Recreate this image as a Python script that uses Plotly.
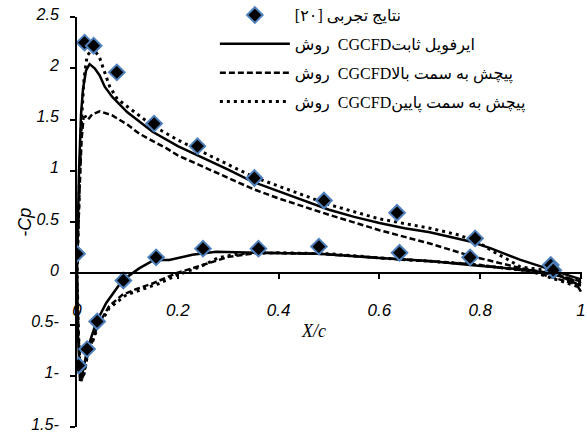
import plotly.graph_objects as go

# ---------------- data ----------------
exp_x = [0.0, 0.015, 0.033, 0.079, 0.153, 0.239, 0.352, 0.49, 0.635, 0.79, 0.94,
         0.003, 0.02, 0.04, 0.092, 0.157, 0.25, 0.36, 0.48, 0.64, 0.78, 0.945]
exp_y = [0.19, 2.25, 2.22, 1.96, 1.46, 1.24, 0.93, 0.71, 0.59, 0.34, 0.08,
         -0.9, -0.74, -0.47, -0.07, 0.155, 0.24, 0.24, 0.26, 0.2, 0.155, 0.03]

fixed_x = [1.0, 0.94, 0.88, 0.82, 0.78, 0.7, 0.65, 0.6, 0.55, 0.5, 0.45, 0.4, 0.35, 0.3, 0.24, 0.2,
           0.15, 0.1, 0.07, 0.055, 0.045, 0.035, 0.025, 0.018, 0.012, 0.008, 0.004, 0.001, 0.0,
           0.002, 0.006, 0.012, 0.02, 0.038, 0.058, 0.09, 0.124, 0.153, 0.183, 0.229, 0.276,
           0.36, 0.48, 0.6, 0.7, 0.78, 0.9, 0.96, 0.99, 1.0]
fixed_y = [-0.06, 0.035, 0.13, 0.245, 0.31, 0.40, 0.44, 0.49, 0.55, 0.62, 0.71, 0.80, 0.89, 1.01, 1.15, 1.24,
           1.38, 1.57, 1.72, 1.82, 1.93, 2.0, 2.04, 1.98, 1.80, 1.55, 1.0, 0.3, 0.0,
           -0.6, -1.05, -0.95, -0.75, -0.48, -0.29, -0.07, 0.05, 0.13, 0.13, 0.18, 0.21,
           0.20, 0.19, 0.15, 0.12, 0.08, 0.03, -0.03, -0.1, -0.18]

up_x = [1.0, 0.94, 0.88, 0.78, 0.7, 0.6, 0.5, 0.4, 0.35, 0.3, 0.24, 0.2, 0.177, 0.124, 0.1, 0.07,
        0.045, 0.03, 0.022, 0.017, 0.013, 0.009, 0.005, 0.002, 0.0,
        0.003, 0.008, 0.014, 0.02, 0.04, 0.064, 0.09, 0.12, 0.15, 0.197, 0.262, 0.3, 0.36,
        0.48, 0.6, 0.78, 0.9, 1.0]
up_y = [-0.08, 0.0, 0.05, 0.17, 0.29, 0.42, 0.57, 0.73, 0.82, 0.93, 1.06, 1.15, 1.22, 1.36, 1.45, 1.54,
        1.58, 1.55, 1.50, 1.53, 1.52, 1.3, 0.8, 0.3, 0.0,
        -0.6, -1.05, -0.98, -0.82, -0.52, -0.32, -0.21, -0.15, -0.1, 0.0, 0.1, 0.16, 0.2,
        0.19, 0.15, 0.09, 0.02, -0.12]

down_x = [1.0, 0.93, 0.88, 0.86, 0.83, 0.8, 0.76, 0.7, 0.6, 0.5, 0.4, 0.35, 0.3, 0.24, 0.2, 0.15,
          0.1, 0.08, 0.065, 0.055, 0.045, 0.032, 0.02, 0.014, 0.009, 0.005, 0.002, 0.0,
          0.003, 0.008, 0.014, 0.02, 0.04, 0.064, 0.098, 0.163, 0.197, 0.243, 0.28, 0.32,
          0.4, 0.5, 0.6, 0.78, 0.9, 1.0]
down_y = [-0.1, 0.03, 0.06, 0.12, 0.2, 0.29, 0.37, 0.44, 0.53, 0.67, 0.85, 0.94, 1.06, 1.20, 1.30, 1.44,
          1.62, 1.70, 1.82, 1.95, 2.1, 2.2, 2.12, 1.9, 1.5, 0.9, 0.3, 0.0,
          -0.6, -1.05, -0.98, -0.82, -0.54, -0.34, -0.21, -0.1, -0.02, 0.06, 0.15, 0.19,
          0.2, 0.19, 0.15, 0.09, 0.02, -0.14]

x_ticks = [0, 0.2, 0.4, 0.6, 0.8, 1]
x_ticktext = ["0", "0.2", "0.4", "0.6", "0.8", "1"]
y_ticks = [2.5, 2, 1.5, 1, 0.5, 0, -0.5, -1, -1.5]
y_ticktext = ["2.5", "2", "1.5", "1", "0.5", "0", "0.5-", "1-", "1.5-"]

RLE, PDF = "\u202b", "\u202c"
name_exp = RLE + "نتایج تجربی [۲۰]" + PDF
name_fixed = "روش  CGCFDایرفویل ثابت"
name_up = "روش  CGCFDپیچش به سمت بالا"
name_down = "روش  CGCFDپیچش به سمت پایین"

# ---------------- figure ----------------
fig = go.Figure()
fig.add_trace(go.Scatter(x=fixed_x, y=fixed_y, mode="lines", name=name_fixed,
                         line=dict(color="black", width=2.5), legendrank=2, legendgroup="b"))
fig.add_trace(go.Scatter(x=up_x, y=up_y, mode="lines", name=name_up,
                         line=dict(color="black", width=2.5, dash="6px,3px"), legendrank=3, legendgroup="c"))
fig.add_trace(go.Scatter(x=down_x, y=down_y, mode="lines", name=name_down,
                         line=dict(color="black", width=3, dash="3px,4px"), legendrank=4, legendgroup="d"))
fig.add_trace(go.Scatter(x=exp_x, y=exp_y, mode="markers", name=name_exp,
                         marker=dict(symbol="diamond", size=12, color="black",
                                     line=dict(color="#4F81BD", width=2)),
                         legendrank=1, legendgroup="a"))

fig.update_layout(
    width=587, height=434,
    margin=dict(l=77, r=5, t=17, b=7, autoexpand=False),
    paper_bgcolor="white", plot_bgcolor="white",
    font=dict(family="Liberation Sans, Arial", color="black"),
    showlegend=True,
    legend=dict(x=0.273, y=1.046, xanchor="left", yanchor="top",
                bgcolor="rgba(0,0,0,0)", itemwidth=70, tracegroupgap=5,
                font=dict(family="Liberation Serif, DejaVu Sans", size=16, color="black")),
    xaxis=dict(range=[0, 1.002], tickvals=x_ticks, ticktext=x_ticktext, automargin=False,
               showgrid=False, zeroline=False, showline=True, linecolor="black", linewidth=2,
               ticks="outside", ticklen=5, tickwidth=1.5, tickcolor="black",
               anchor="free", position=0.375, ticklabelstandoff=16, ticklabeloverflow="allow",
               tickfont=dict(size=17, style="italic", family="Liberation Sans, Arial")),
    yaxis=dict(range=[-1.5, 2.5], tickvals=y_ticks, ticktext=y_ticktext, automargin=False,
               showgrid=False, zeroline=False, showline=True, linecolor="black", linewidth=2,
               ticks="outside", ticklen=5, tickwidth=1.5, tickcolor="black",
               ticklabelstandoff=8, ticklabeloverflow="allow", ticklabelshift=-3,
               tickfont=dict(size=16, style="italic", family="Liberation Sans, Arial")),
    annotations=[
        dict(text="-Cp", textangle=-90, xref="paper", yref="y", x=-0.127, y=0.5,
             showarrow=False, font=dict(size=18, style="italic", family="Liberation Sans, Arial")),
        dict(text="X/c", xref="x", yref="y", x=0.47, y=-0.56, showarrow=False,
             font=dict(size=18, style="italic", family="Liberation Serif, DejaVu Serif")),
    ],
)

# remove the browser's default 8px body margin so the 587x434 figure fills the window exactly
fig.write_html("out.html", config={"displayModeBar": False},
               post_script="document.body.style.margin='0';")
